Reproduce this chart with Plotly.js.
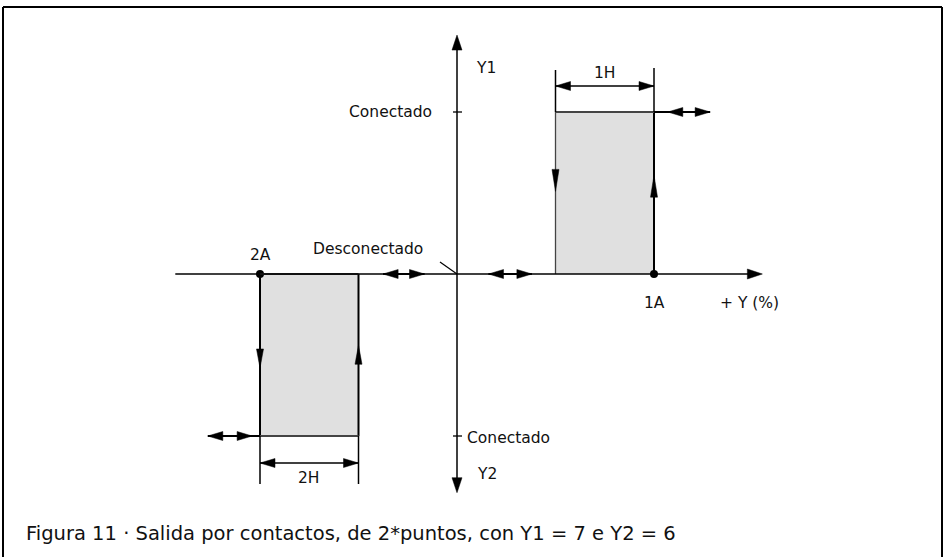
<!DOCTYPE html>
<html><head><meta charset="utf-8">
<script src="https://cdn.plot.ly/plotly-3.0.1.min.js"></script>
<style>html,body{margin:0;padding:0;background:#fff}#chart{width:944px;height:557px}</style>
</head><body><div id="chart"></div>
<script>
// ---------------- data ----------------
// x: units of the +Y axis (origin at the Y1/Y2 axis); y: switching state
const stateLabels   = ['Conectado', 'Desconectado', 'Conectado'];
const stateLevels   = [1, 0, -1];            // Y1 on, off, Y2 on
const contactNames  = ['1A', '2A'];
const contactPoints = [2, -2];               // switching points
const contactLevels = [1, -1];               // output level of each contact
const hystNames     = ['1H', '2H'];
const hystWidths    = [1, 1];
const flowDownTip   = [0.51, -0.58];         // direction arrows on the loops
const flowUpTip     = [0.61, -0.44];
const adjustLevel   = [1, 0, 0, -1];         // adjustment ranges (double arrows)
const adjustFrom    = [2.14, -0.75, 0.32, -2.53];
const adjustTo      = [2.57, -0.33, 0.76, -2.08];
const axisXRange    = [-2.86, 3.10];
const axisYRange    = [-1.35, 1.475];
const axisNames     = ['+ Y (%)', 'Y1', 'Y2'];
const captionText   = 'Figura 11 · Salida por contactos, de 2*puntos, con Y1 = 7 e Y2 = 6';

// ---------------- geometry helpers ----------------
const W = 944, H = 557, OX = 457, OY = 274, SX = 98.5, SY = 162;
const ux = p => p / SX, uy = p => p / SY;
const FONT = 'DejaVu Sans, Liberation Sans, sans-serif';
const shapes = [], annotations = [], traces = [];

function line(x0, y0, x1, y1, w, c) {
  shapes.push({type: 'line', xref: 'x', yref: 'y', x0, y0, x1, y1,
    line: {color: c || '#000', width: w || 1.5}});
}
function tri(x, y, dir, L, hw) {
  let p;
  if (dir === 'right') p = [[x, y], [x - ux(L), y + uy(hw)], [x - ux(L), y - uy(hw)]];
  if (dir === 'left')  p = [[x, y], [x + ux(L), y + uy(hw)], [x + ux(L), y - uy(hw)]];
  if (dir === 'up')    p = [[x, y], [x - ux(hw), y - uy(L)], [x + ux(hw), y - uy(L)]];
  if (dir === 'down')  p = [[x, y], [x - ux(hw), y + uy(L)], [x + ux(hw), y + uy(L)]];
  shapes.push({type: 'path', xref: 'x', yref: 'y',
    path: 'M' + p.map(q => q[0] + ',' + q[1]).join('L') + 'Z',
    fillcolor: '#000', line: {color: '#000', width: 0.5}});
}
function text(t, x, y, opts) {
  annotations.push(Object.assign({text: t, x, y, xref: 'x', yref: 'y', showarrow: false,
    font: {family: FONT, size: 15.5, color: '#111'}}, opts || {}));
}

// ---------------- hysteresis loops ----------------
contactPoints.forEach((cp, i) => {
  const lv = contactLevels[i], h = hystWidths[i];
  const xa = lv > 0 ? cp - h : cp, xb = lv > 0 ? cp : cp + h;
  traces.push({x: [xa, xb, xb, xa, xa], y: [0, 0, lv, lv, 0], mode: 'lines',
    fill: 'toself', fillcolor: '#e0e0e0', line: {width: 0}, hoverinfo: 'skip'});
});
// right loop (Y1)
(function () {
  const cp = contactPoints[0], h = hystWidths[0], lv = contactLevels[0];
  line(cp - h, 0, cp - h, lv, 1.3, '#444');
  line(cp, 0, cp, lv, 2, '#000');
  line(cp - h, lv, cp, lv, 2, '#444');
  tri(cp - h, flowDownTip[0], 'down', 22, 3.5);
  tri(cp, flowUpTip[0], 'up', 22, 3.5);
  const yd = lv + uy(26);
  line(cp - h, lv, cp - h, lv + uy(42), 1.5);
  line(cp, lv, cp, lv + uy(44), 1.5);
  line(cp - h, yd, cp, yd, 1.5);
  tri(cp - h, yd, 'left', 15, 4.5);
  tri(cp, yd, 'right', 15, 4.5);
  text(hystNames[0], cp - h / 2, yd, {yshift: 13});
  text(contactNames[0], cp, 0, {yshift: -29});
})();
// left loop (Y2)
(function () {
  const cp = contactPoints[1], h = hystWidths[1], lv = contactLevels[1];
  line(cp, 0, cp, lv, 2, '#000');
  line(cp + h, 0, cp + h, lv, 2, '#000');
  line(cp, lv, cp + h, lv, 2, '#444');
  line(cp, 0, cp + h, 0, 2, '#444');
  tri(cp, flowDownTip[1], 'down', 19, 3.5);
  tri(cp + h, flowUpTip[1], 'up', 19, 3.5);
  const yd = lv - uy(27);
  line(cp, lv, cp, lv - uy(48), 1.5);
  line(cp + h, lv, cp + h, lv - uy(48), 1.5);
  line(cp, yd, cp + h, yd, 1.5);
  tri(cp, yd, 'left', 15, 4.5);
  tri(cp + h, yd, 'right', 15, 4.5);
  text(hystNames[1], cp + h / 2, yd, {yshift: -15});
  text(contactNames[1], cp, 0, {yshift: 19});
})();

// ---------------- axes ----------------
line(axisXRange[0], 0, axisXRange[1] - ux(8), 0, 1.5);
tri(axisXRange[1], 0, 'right', 15, 5);
line(0, axisYRange[0] + uy(8), 0, axisYRange[1] - uy(8), 1.5);
tri(0, axisYRange[1], 'up', 15, 5);
tri(0, axisYRange[0], 'down', 15, 5);
[0, 2].forEach(k => line(-ux(4), stateLevels[k], ux(5), stateLevels[k], 1.3));
text(axisNames[0], axisXRange[1], 0, {xshift: -13, yshift: -29});
text(axisNames[1], 0, axisYRange[1], {xshift: 29, yshift: -33});
text(axisNames[2], 0, stateLevels[2], {xshift: 30, yshift: -38});
text(stateLabels[0], 0, stateLevels[0], {xanchor: 'right', xshift: -23});
text(stateLabels[2], 0, stateLevels[2], {xanchor: 'left', xshift: 8, yshift: -2});
text(stateLabels[1], 0, stateLevels[1], {xshift: -89, yshift: 25});
line(-ux(17), uy(12), 0, 0, 1.2);   // leader to origin

traces.push({x: contactPoints, y: [0, 0], mode: 'markers',
  marker: {color: '#000', size: 8}, hoverinfo: 'skip'});

// ---------------- adjustment ranges ----------------
adjustLevel.forEach((lv, i) => {
  const a = adjustFrom[i], b = adjustTo[i];
  let la = a, lb = b;
  if (lv === contactLevels[0]) la = contactPoints[0];
  if (lv === contactLevels[1]) lb = contactPoints[1];
  line(la, lv, lb, lv, 2);
  tri(a, lv, 'left', 15, 4.5);
  tri(b, lv, 'right', 15, 4.5);
});

// ---------------- frame & caption ----------------
const px = v => v / W, py = v => 1 - v / H;
[[3, 7, 942, 7], [3, 7, 3, 557], [942, 7, 942, 557]].forEach(s => shapes.push({
  type: 'line', xref: 'paper', yref: 'paper', x0: px(s[0]), y0: py(s[1]), x1: px(s[2]), y1: py(s[3]),
  line: {color: '#000', width: 2}}));
annotations.push({text: captionText, xref: 'paper', yref: 'paper', x: px(24), y: py(533),
  xanchor: 'left', yanchor: 'middle', showarrow: false,
  font: {family: FONT, size: 19.5, color: '#111'}});

const layout = {
  width: W, height: H, margin: {l: 0, r: 0, t: 0, b: 0},
  paper_bgcolor: '#fff', plot_bgcolor: '#fff', showlegend: false,
  xaxis: {range: [-OX / SX, (W - OX) / SX], visible: false, fixedrange: true},
  yaxis: {range: [-(H - OY) / SY, OY / SY], visible: false, fixedrange: true},
  shapes, annotations
};
Plotly.newPlot('chart', traces, layout, {staticPlot: true, displayModeBar: false});
</script></body></html>
